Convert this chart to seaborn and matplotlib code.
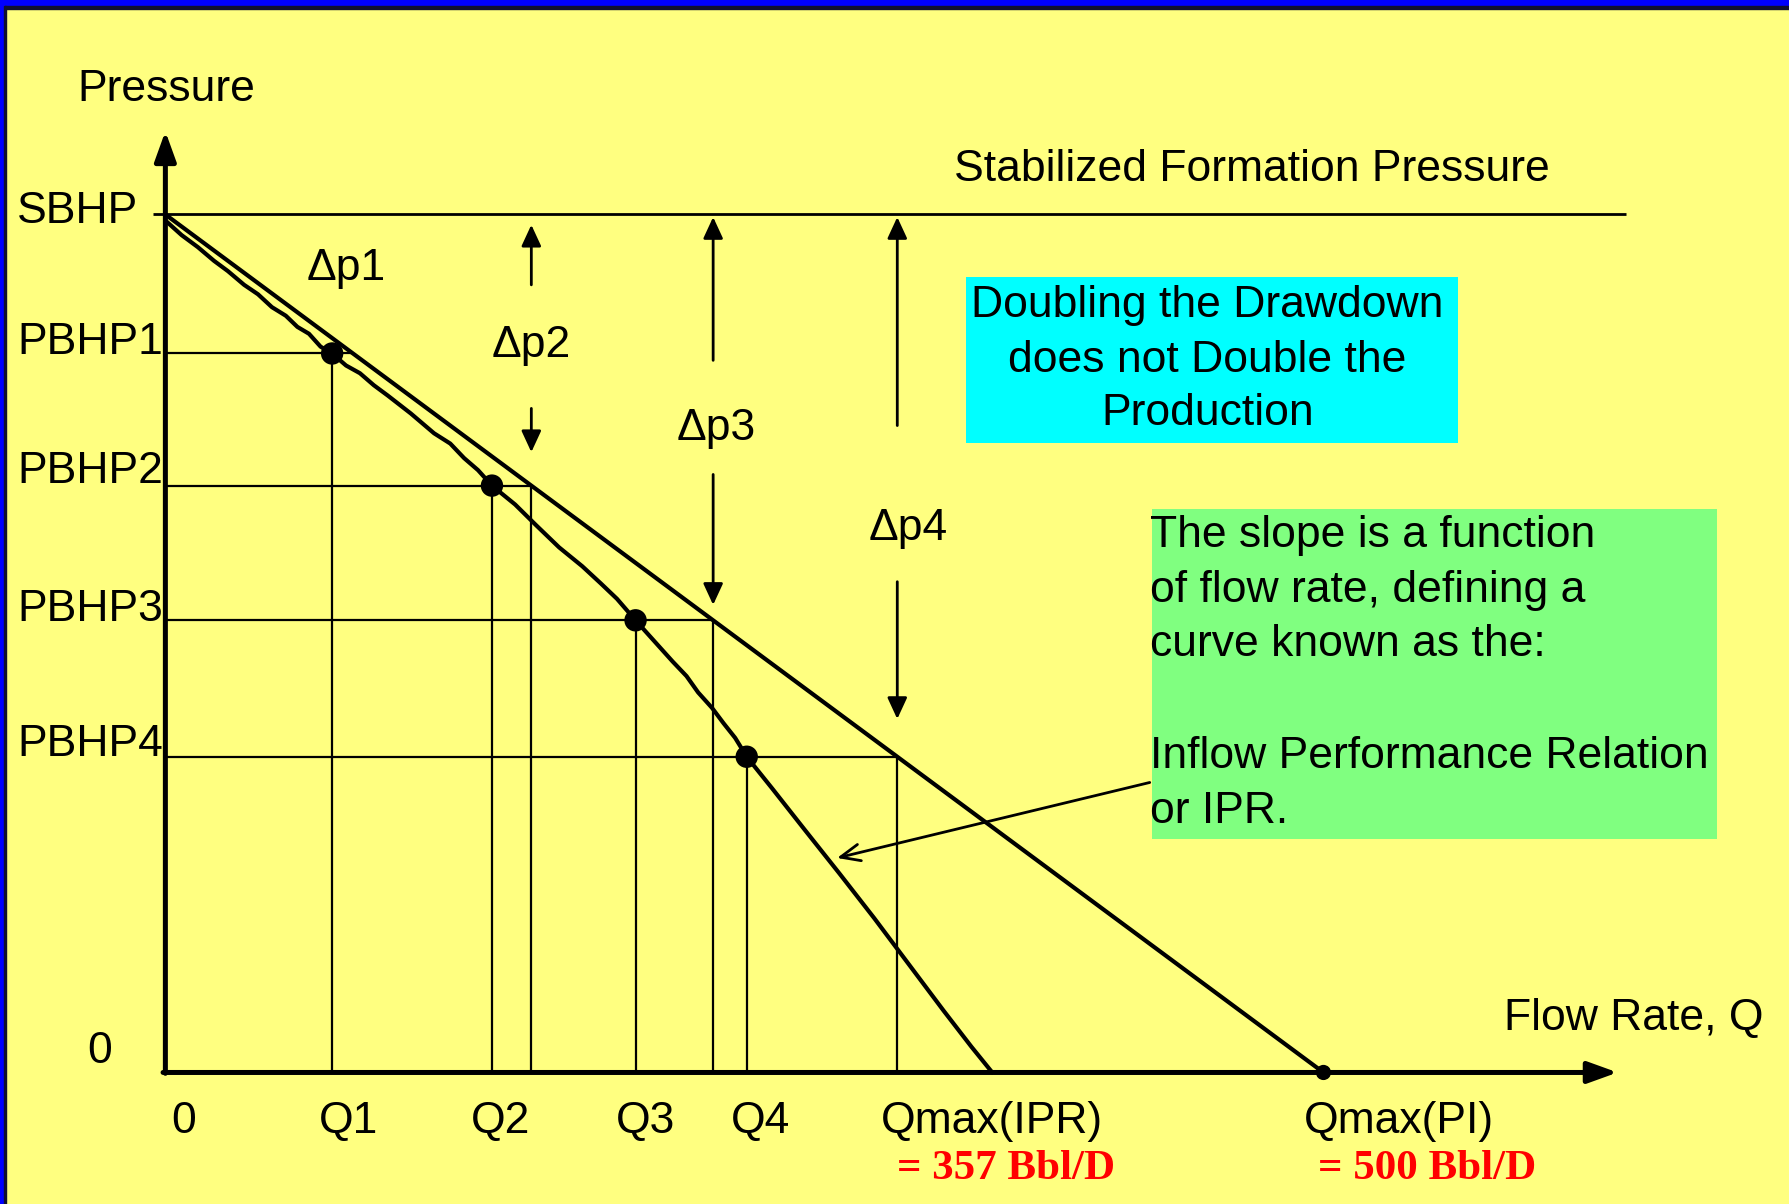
import matplotlib
matplotlib.use("Agg")
import matplotlib.pyplot as plt
from matplotlib.patches import Rectangle, ArrowStyle
import seaborn as sns

# ---- data: pressure (psi) and flow rate (Bbl/D) ----
SBHP = 1000
QMAX_PI = 500
QMAX_IPR = 357
pbhp_levels = [838, 684, 527, 368]
pbhp_labels = ["PBHP1", "PBHP2", "PBHP3", "PBHP4"]
q_ipr = [72, 141, 203, 251]
q_labels = ["Q1", "Q2", "Q3", "Q4"]
dp_labels = ["Δp1", "Δp2", "Δp3", "Δp4"]

# traced IPR curve (rate, pressure)
ipr_q = [0, 7, 14, 21, 27, 34, 40, 46, 52, 57, 62, 67, 72, 78, 84, 90, 96, 106, 116,
         123, 129, 135, 141, 151, 160, 170, 180, 188, 195, 203, 211, 219, 225, 230,
         236, 241, 246, 251, 262, 276, 291, 306, 321, 336, 348, 357]
ipr_p = [993, 976, 962, 946, 934, 918, 907, 892, 882, 869, 861, 846, 838, 824, 815,
         801, 789, 768, 745, 733, 716, 702, 684, 662, 638, 612, 590, 570, 552, 527,
         503, 479, 462, 443, 425, 407, 390, 368, 331, 283, 232, 180, 126, 72, 30, 0]

# straight-line productivity index
pi_q = [0, QMAX_PI]
pi_p = [SBHP, 0]
q_pi = [QMAX_PI * (1 - p / SBHP) for p in pbhp_levels]

YELLOW = "#FFFF80"
sns.set_theme(style="white")
plt.rcParams["font.family"] = ["Liberation Sans", "DejaVu Sans"]
plt.rcParams["text.color"] = "black"

fig = plt.figure(figsize=(17.89, 12.04), dpi=100, facecolor=YELLOW)
ax = fig.add_axes([0, 0, 1, 1])
ax.set_facecolor(YELLOW)
ax.set_xlim(-71.4, 701.0)
ax.set_ylim(-153.3, 1250.0)
ax.axis("off")

# slide border
fig.add_artist(Rectangle((0, 1 - 6 / 1204), 1, 6 / 1204, transform=fig.transFigure,
                         color="#0000FF", zorder=20))
fig.add_artist(Rectangle((0, 1 - 8.5 / 1204), 1, 2.5 / 1204, transform=fig.transFigure,
                         color="#101030", zorder=20))
fig.add_artist(Rectangle((0, 0), 4 / 1789, 1, transform=fig.transFigure,
                         color="#0000FF", zorder=20))
fig.add_artist(Rectangle((4 / 1789, 0), 2 / 1789, 1 - 6 / 1204, transform=fig.transFigure,
                         color="#101030", zorder=20))

# coloured note boxes
ax.add_patch(Rectangle((345.8, 734.0), 558.1 - 345.8, 926.9 - 734.0,
                       facecolor="#00FFFF", edgecolor="none", zorder=1))
ax.add_patch(Rectangle((426.1, 272.6), 670.0 - 426.1, 656.9 - 272.6,
                       facecolor="#80FF80", edgecolor="none", zorder=1))

thin = 1.6
# stabilized formation pressure line
ax.hlines(SBHP, -5.4, 630.6, color="black", lw=2.0, zorder=3)
# construction lines
for p, qi, qp in zip(pbhp_levels, q_ipr, q_pi):
    ax.hlines(p, 0, qp, color="black", lw=thin, zorder=3)
    ax.vlines(qi, 0, p, color="black", lw=thin, zorder=3)
for p, qp in list(zip(pbhp_levels, q_pi))[1:]:
    ax.vlines(qp, 0, p, color="black", lw=thin, zorder=3)

# axes with arrow heads
big_head = ArrowStyle("-|>", head_length=18, head_width=6.5)
ax.annotate("", xy=(0, 1097), xytext=(0, -1),
            arrowprops=dict(arrowstyle=big_head, mutation_scale=1, lw=3.6,
                            color="black", shrinkA=0, shrinkB=0), zorder=6)
ax.annotate("", xy=(627, 0), xytext=(-1, 0),
            arrowprops=dict(arrowstyle=big_head, mutation_scale=1, lw=3.6,
                            color="black", shrinkA=0, shrinkB=0), zorder=6)

# PI line and IPR curve
sns.lineplot(x=pi_q, y=pi_p, ax=ax, color="black", lw=3.0, estimator=None, zorder=4)
sns.lineplot(x=ipr_q, y=ipr_p, ax=ax, color="black", lw=3.0, estimator=None,
             sort=False, zorder=4)
sns.scatterplot(x=q_ipr, y=pbhp_levels, ax=ax, s=260, color="black",
                edgecolor="none", zorder=5)
sns.scatterplot(x=[QMAX_PI], y=[0], ax=ax, s=120, color="black",
                edgecolor="none", zorder=5)

FS = 32
DY = -4  # baseline nudge for centred text
# axis titles
ax.text(-37.9, 1150 + DY, "Pressure", fontsize=FS, ha="left", va="center")
ax.text(340.4, 1057 + DY, "Stabilized Formation Pressure", fontsize=FS,
        ha="left", va="center")
ax.text(577.8, 66.5 + DY, "Flow Rate, Q", fontsize=FS, ha="left", va="center")

# pressure labels
y_names = ["SBHP"] + pbhp_labels
y_vals = [SBHP] + pbhp_levels
y_off = [2, 8, 10, 8, 9]
for name, val, off in zip(y_names, y_vals, y_off):
    ax.annotate(name, xy=(-64, val), xytext=(0, off), textcoords="offset points",
                fontsize=FS, ha="left", va="center")
ax.annotate("0", xy=(-28.6, 0), xytext=(0, 15), textcoords="offset points",
            fontsize=FS, ha="center", va="center")

# rate labels
x_names = ["0"] + q_labels + ["Qmax(IPR)", "Qmax(PI)"]
x_vals = [0] + q_ipr + [QMAX_IPR, QMAX_PI]
x_off = [13, 12, 6, 7, 10, 0, 54]
for name, val, off in zip(x_names, x_vals, x_off):
    ax.annotate(name, xy=(val, -53.2 + DY), xytext=(off, 0), textcoords="offset points",
                fontsize=FS, ha="center", va="center")
for val, off in [(QMAX_IPR, 10), (QMAX_PI, 75)]:
    ax.annotate(f"= {val} Bbl/D", xy=(val, -113), xytext=(off, 0),
                textcoords="offset points", fontsize=31, fontweight="bold",
                family="Liberation Serif", color="#FF0000", ha="center", va="center")

# drawdown labels and arrows
dp_pos = [(78.2, 941.5), (158.1, 851), (237.9, 754), (320.7, 638)]
for lab, (x, y) in zip(dp_labels, dp_pos):
    ax.text(x, y + DY, lab, fontsize=FS, ha="center", va="center", zorder=6)
small_head = ArrowStyle("-|>", head_length=13, head_width=6)
spans = [((918, 988), (774, 723)), ((830, 997), (697, 545)), ((754, 997), (572, 412))]
for qp, ((u0, u1), (d0, d1)) in zip(q_pi[1:], spans):
    for a, b in [(u0, u1), (d0, d1)]:
        ax.annotate("", xy=(qp, b), xytext=(qp, a),
                    arrowprops=dict(arrowstyle=small_head, mutation_scale=1, lw=2.0,
                                    color="black", shrinkA=0, shrinkB=0), zorder=6)

# note texts
cyan_lines = ["Doubling the Drawdown", "does not Double the", "Production"]
for line, y in zip(cyan_lines, [907, 843, 781]):
    ax.text(450, y - 13, line, fontsize=FS, ha="center", va="center", zorder=6)
green_lines = ["The slope is a function", "of flow rate, defining a", "curve known as the:",
               "Inflow Performance Relation", "or IPR."]
for line, y in zip(green_lines, [630.3, 565.2, 502.7, 372.3, 308.5]):
    ax.text(425.1, y + DY, line, fontsize=FS, ha="left", va="center", zorder=6)

# pointer to the IPR curve
ax.annotate("", xy=(290, 250), xytext=(425, 338),
            arrowprops=dict(arrowstyle=ArrowStyle("->", head_length=14, head_width=6),
                            mutation_scale=1, lw=2.0, color="black",
                            shrinkA=0, shrinkB=0), zorder=6)

fig.savefig("out.png", dpi=100, facecolor=YELLOW)
